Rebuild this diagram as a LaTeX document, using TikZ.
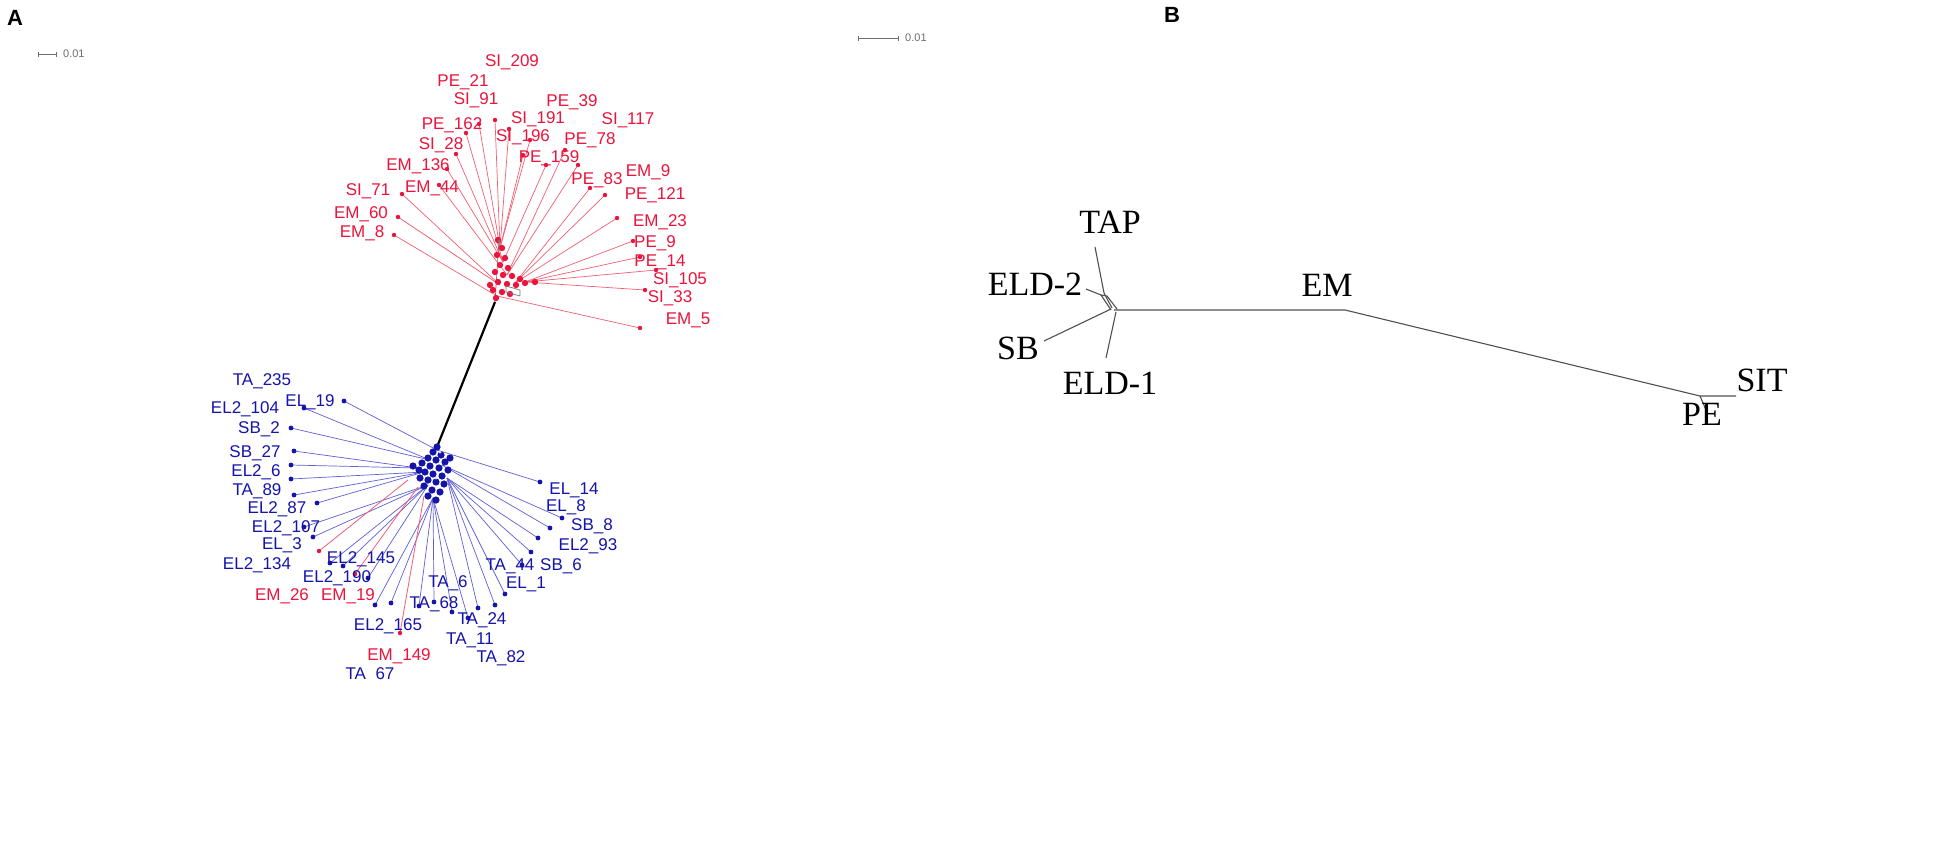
\documentclass[tikz,border=0pt]{standalone}
\usepackage{fontspec}
\setmainfont{Liberation Sans}
\newfontfamily\serifB{Liberation Serif}
\definecolor{rlab}{RGB}{235,20,60}
\definecolor{rline}{RGB}{240,95,115}
\definecolor{blab}{RGB}{20,20,170}
\definecolor{bline}{RGB}{95,95,215}
\definecolor{treeB}{RGB}{80,80,80}
\definecolor{scalegray}{RGB}{110,110,110}
\definecolor{netgray}{RGB}{120,120,120}
\begin{document}
\begin{tikzpicture}[x=1pt,y=-1pt,
  rlabel/.style={text=rlab,font=\fontsize{17}{17}\selectfont,inner sep=0pt},
  blabel/.style={text=blab,font=\fontsize{17}{17}\selectfont,inner sep=0pt},
  redge/.style={draw=rline,line width=0.7pt},
  bedge/.style={draw=bline,line width=0.7pt},
  bedgered/.style={draw=rline,line width=0.8pt},
  netedge/.style={draw=netgray,line width=0.7pt},
  blabelB/.style={font=\serifB\fontsize{34}{34}\selectfont,inner sep=0pt},
  treeline/.style={draw=treeB,line width=1.1pt},
  panel/.style={font=\bfseries\fontsize{22}{22}\selectfont,inner sep=0pt},
  scaletxt/.style={text=scalegray,font=\fontsize{11}{11}\selectfont,inner sep=0pt,anchor=west}]
\useasboundingbox (0,0) rectangle (1950,857);
\fill[white] (0,0) rectangle (1950,857);

% ---------- Panel A ----------
\node[panel] (pA) at (15,18) {A};
\coordinate (sa1) at (38,54); \coordinate (sa2) at (56,54);
\draw[scalegray,line width=0.8pt] (sa1) -- (sa2);
\draw[scalegray,line width=0.8pt] ([yshift=-2.5pt]sa1) -- ([yshift=2.5pt]sa1);
\draw[scalegray,line width=0.8pt] ([yshift=-2.5pt]sa2) -- ([yshift=2.5pt]sa2);
\node[scaletxt] (sat) at (63,54) {0.01};

% red hub points
\coordinate (rh1) at (500,248);
\coordinate (rh2) at (503,262);
\coordinate (rh3) at (507,275);
\coordinate (rh4) at (500,285);
\coordinate (rh5) at (515,283);
\coordinate (rh6) at (525,282);
\coordinate (rh7) at (497,296);

% red leaves
\foreach \x/\y/\h [count=\i] in {495/120/rh1,479/124/rh1,466/133/rh2,509/129/rh1,456/154/rh2,447/169/rh2,439/185/rh3,523/155/rh1,546/165/rh2,530/140/rh1,402/194/rh4,398/217/rh4,394/235/rh7,565/150/rh3,578/165/rh3,590/188/rh5,605/195/rh5,617/218/rh5,633/241/rh6,640/257/rh6,656/270/rh6,645/290/rh6,640/328/rh7}{
  \coordinate (rt\i) at (\x,\y);
  \draw[redge] (\h) -- (rt\i);
  \fill[rlab] (rt\i) circle (2.2);
}

% long black branch
\coordinate (rbase) at (495,302);
\coordinate (bbase) at (437,447);
\coordinate (rtop) at (499,240);
\draw[netedge] (rbase) -- (rtop);
\draw[black,line width=2.2pt] (rbase) -- (bbase);

% red hub dots
\foreach \x/\y in {498/240,502/248,497/255,505/258,500/265,508/268,495/272,503/275,512/276,498/282,507/284,516/285,525/283,493/290,502/292,510/294,496/298,520/279,535/282,490/285}{
  \fill[rlab] (\x,\y) circle (3.2);
}
% small network boxes inside red hub
\coordinate (rn1) at (506,286); \coordinate (rn2) at (520,290);
\coordinate (rn3) at (506,292); \coordinate (rn4) at (520,296);
\draw[netedge] (rn1) -- (rn2) (rn3) -- (rn4) (rn1) -- (rn3) (rn2) -- (rn4);
\fill[netgray] (499,241) circle (1.6);

% red labels
\foreach \t/\x/\y [count=\i] in {SI\_209/512/62,PE\_21/463/82,SI\_91/476/100,PE\_39/572/102,PE\_162/452/125,SI\_191/538/119,SI\_117/628/120,SI\_196/523/137,PE\_78/590/140,SI\_28/441/145,PE\_159/549/158,EM\_136/418/166,PE\_83/597/180,EM\_9/648/172,SI\_71/368/191,EM\_44/432/188,PE\_121/655/195,EM\_60/361/214,EM\_23/660/222,EM\_8/362/233,PE\_9/655/243,PE\_14/660/262,SI\_105/680/280,SI\_33/670/298,EM\_5/688/320}{
  \node[rlabel] (rl\i) at (\x,\y) {\t};
}

% blue hub points
\coordinate (bh1) at (437,450);
\coordinate (bh2) at (430,460);
\coordinate (bh3) at (424,472);
\coordinate (bh4) at (442,465);
\coordinate (bh5) at (428,485);
\coordinate (bh6) at (433,498);
\coordinate (bh7) at (447,478);
\coordinate (bh8) at (418,468);
\coordinate (bhr1) at (408,480);
\coordinate (bhr2) at (418,487);
\coordinate (bhr3) at (424,496);

% blue leaves
\foreach \x/\y/\h [count=\i] in {344/401/bh1,304/408/bh2,291/428/bh2,294/451/bh8,291/465/bh8,291/479/bh3,294/495/bh3,317/503/bh3,304/527/bh5,313/537/bh5,330/563/bh5,343/566/bh5,368/578/bh5,375/605/bh6,391/603/bh6,419/606/bh6,434/602/bh6,452/612/bh6,468/618/bh6,478/608/bh7,495/605/bh7,505/594/bh7,522/565/bh7,531/552/bh7,538/538/bh7,550/528/bh4,562/518/bh4,540/482/bh1}{
  \coordinate (bt\i) at (\x,\y);
  \draw[bedge] (\h) -- (bt\i);
  \fill[blab] (bt\i) circle (2.4);
}
% red leaves inside blue group
\foreach \x/\y/\h [count=\i] in {319/551/bhr1,355/574/bhr2,400/633/bhr3}{
  \coordinate (bre\i) at (\x,\y);
  \draw[bedgered] (\h) -- (bre\i);
  \fill[rlab] (bre\i) circle (2.2);
}

% blue hub dots
\foreach \x/\y in {437/447,433/452,441/455,428/458,436/460,445/462,422/463,430/466,439/468,448/470,425/472,433/474,442/476,419/470,428/480,436/482,444/484,424/486,432/490,440/492,428/496,436/500,450/458,413/466,420/478}{
  \fill[blab] (\x,\y) circle (3.6);
}
% small network marks inside blue hub
\fill[white!70!gray] (440,452) circle (1.5);
\fill[white!70!gray] (436,478) circle (1.5);
\fill[white!70!gray] (446,466) circle (1.3);

% blue labels
\foreach \t/\x/\y [count=\i] in {TA\_235/262/381,EL\_19/310/402,EL2\_104/245/409,SB\_2/259/429,SB\_27/255/453,EL2\_6/256/472,TA\_89/257/491,EL2\_87/277/509,EL2\_107/286/528,EL\_3/282/545,EL2\_134/257/565,EL2\_145/361/559,EL2\_190/337/578,TA\_6/448/583,TA\_68/434/604,EL2\_165/388/626,TA\_24/482/620,TA\_11/470/640,TA\_82/501/658,EL\_1/526/584,TA\_44/510/566,SB\_6/561/566,EL2\_93/588/546,SB\_8/592/526,EL\_8/566/507,EL\_14/574/490}{
  \node[blabel] (bl\i) at (\x,\y) {\t};
}
\node[rlabel] (brl1) at (282,596) {EM\_26};
\node[rlabel] (brl2) at (348,596) {EM\_19};
\node[rlabel] (brl3) at (399,656) {EM\_149};
\begin{scope}
  \clip (0,0) rectangle (960,680.5);
  \node[blabel] (bl27) at (370,675) {TA\_67};
\end{scope}

% ---------- Panel B ----------
\node[panel] (pB) at (1172,15) {B};
\coordinate (sb1) at (858,38); \coordinate (sb2) at (898,38);
\draw[scalegray,line width=0.8pt] (sb1) -- (sb2);
\draw[scalegray,line width=0.8pt] ([yshift=-2.5pt]sb1) -- ([yshift=2.5pt]sb1);
\draw[scalegray,line width=0.8pt] ([yshift=-2.5pt]sb2) -- ([yshift=2.5pt]sb2);
\node[scaletxt] (sbt) at (905,38) {0.01};

\coordinate (J) at (1114,310);
\coordinate (tapE) at (1095,247);
\coordinate (tapB) at (1104,293);
\coordinate (eld2E) at (1086,289);
\coordinate (eld2B) at (1101,295);
\coordinate (sbE) at (1044,341);
\coordinate (sbB) at (1111,309);
\coordinate (eld1E) at (1106,358);
\coordinate (eld1B) at (1116,312);
\coordinate (emN) at (1345,310);
\coordinate (psN) at (1700,396);
\coordinate (sitE) at (1736,396);
\coordinate (peE) at (1706,410);

\draw[treeline] (tapE) -- (tapB);
\draw[treeline] (eld2E) -- (eld2B);
\draw[treeline] (tapB) -- (1112,308);
\draw[treeline] (eld2B) -- (1107,296) -- (1117,309);
\draw[treeline] (1101,295) -- (1111,310);
\draw[treeline] (sbE) -- (sbB);
\draw[treeline] (eld1E) -- (eld1B);
\draw[treeline] (J) -- (emN) -- (psN) -- (sitE);
\draw[treeline] (psN) -- (peE);

\node[blabelB] (lTAP) at (1110,222) {TAP};
\node[blabelB] (lELD2) at (1035,284) {ELD-2};
\node[blabelB] (lSB) at (1018,348) {SB};
\node[blabelB] (lELD1) at (1110,383) {ELD-1};
\node[blabelB] (lEM) at (1327,285) {EM};
\node[blabelB] (lSIT) at (1762,380) {SIT};
\node[blabelB] (lPE) at (1702,414) {PE};
\end{tikzpicture}
\end{document}
